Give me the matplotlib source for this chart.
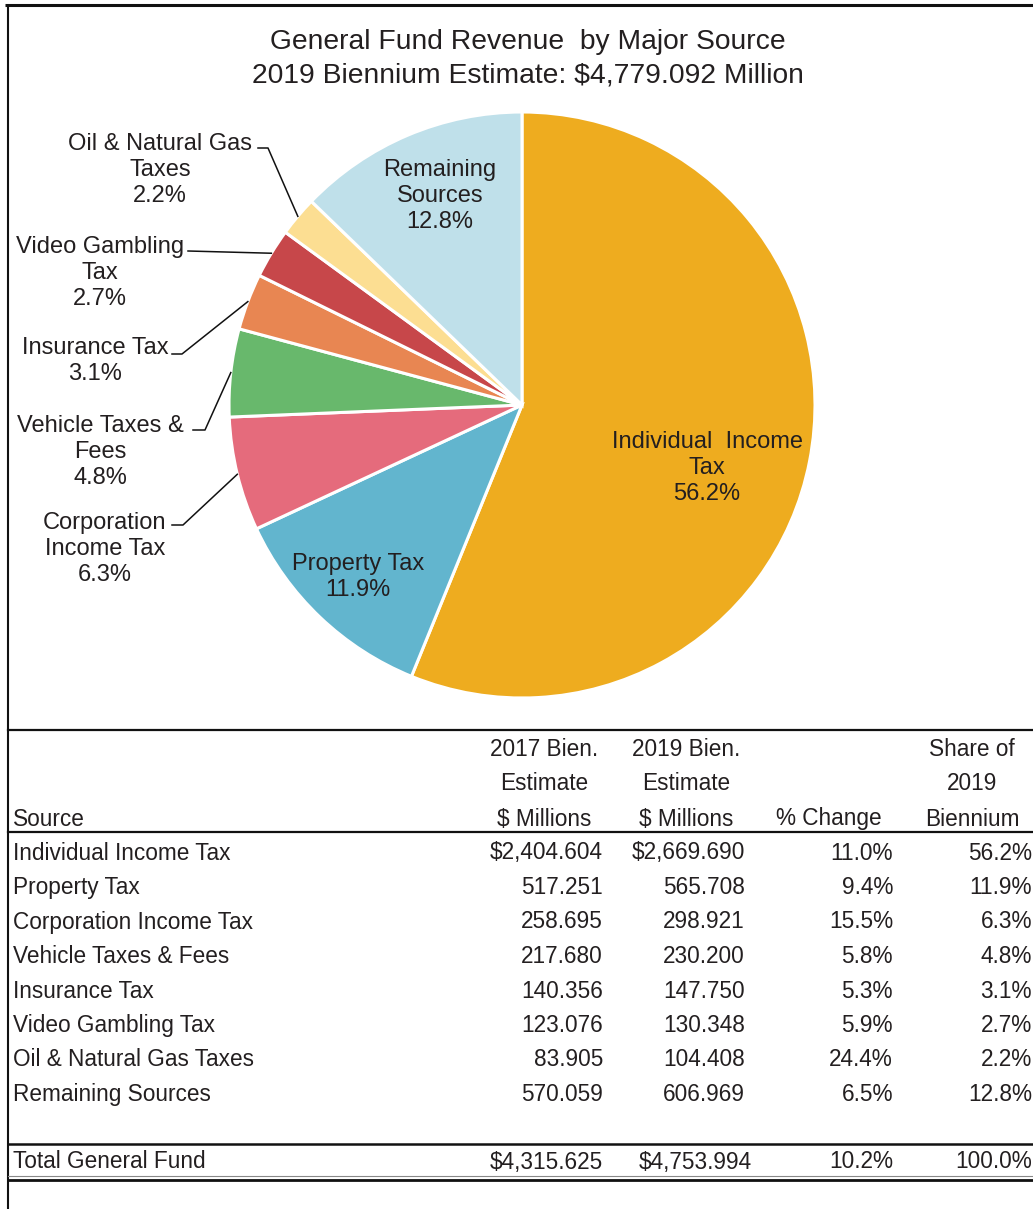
#!/usr/bin/env python3
"""Grafico a torta delle entrate del General Fund con tabella riassuntiva."""

import numpy as np
import matplotlib
matplotlib.use("Agg")
import matplotlib.pyplot as plt

# --- DATI ---
sources = ["Individual Income Tax", "Property Tax", "Corporation Income Tax",
           "Vehicle Taxes & Fees", "Insurance Tax", "Video Gambling Tax",
           "Oil & Natural Gas Taxes", "Remaining Sources"]
pie_labels = ["Individual  Income\nTax", "Property Tax", "Corporation\nIncome Tax",
              "Vehicle Taxes &\nFees", "Insurance Tax", "Video Gambling\nTax",
              "Oil & Natural Gas\nTaxes", "Remaining\nSources"]
est_2017 = [2404.604, 517.251, 258.695, 217.680, 140.356, 123.076, 83.905, 570.059]
est_2019 = [2669.690, 565.708, 298.921, 230.200, 147.750, 130.348, 104.408, 606.969]
pct_change = [11.0, 9.4, 15.5, 5.8, 5.3, 5.9, 24.4, 6.5]
share_2019 = [56.2, 11.9, 6.3, 4.8, 3.1, 2.7, 2.2, 12.8]
total_2017 = 4315.625
total_2019 = 4753.994
total_change = 10.2
total_share = 100.0

colors = ["#EEAC1F", "#62B5CE", "#E56B7C", "#68B86C", "#E88652", "#C7474A",
          "#FCDE92", "#BFE0EA"]
TXT = "#231F20"
FONT = "Liberation Sans"

# --- FIGURA (coordinate in pixel) ---
W, H = 1033, 1209
fig = plt.figure(figsize=(W / 100, H / 100), dpi=100)

# --- TORTA ---
cx, cy, r = 522, 405, 293
pax = fig.add_axes([(cx - r) / W, 1 - (cy + r) / H, 2 * r / W, 2 * r / H])
wedges, _ = pax.pie(est_2019, colors=colors, startangle=90, counterclock=False,
                    wedgeprops=dict(edgecolor="white", linewidth=2.2))
pax.set_xlim(-1, 1)
pax.set_ylim(-1, 1)
pax.axis("off")

# asse sovrapposto per testi e linee
ax = fig.add_axes([0, 0, 1, 1])
ax.set_xlim(0, W)
ax.set_ylim(H, 0)
ax.axis("off")
ax.set_zorder(3)

# cornice
ax.plot([5, W], [5, 5], color="#111111", lw=2.2, solid_capstyle="butt")
ax.plot([8, 8], [5, H], color="#111111", lw=1.5, solid_capstyle="butt")

ax.text(528, 42, "General Fund Revenue  by Major Source", ha="center", va="center",
        fontsize=20.3, family=FONT, color=TXT)
ax.text(528, 75, "2019 Biennium Estimate: $4,779.092 Million", ha="center", va="center",
        fontsize=20.3, family=FONT, color=TXT)

# etichette interne
inside = {0: (707, 468), 1: (358, 577), 7: (440, 196)}
# etichette esterne: centro testo, estremo della riga di richiamo, gomito
outside = {
    6: ((160, 170), (258, 148), (268, 148)),
    5: ((100, 273), (188, 251), (188, 251)),
    4: ((95, 361), (172, 354), (182, 354)),
    3: ((100, 452), (193, 430), (205, 430)),
    2: ((105, 549), (172, 525), (183, 525)),
}
LFS = 17

for i, w in enumerate(wedges):
    label = f"{pie_labels[i]}\n{share_2019[i]:.1f}%"
    if i in inside:
        x, y = inside[i]
        ax.text(x, y, label, ha="center", va="center", fontsize=LFS, family=FONT,
                color=TXT, linespacing=1.25)
    else:
        (x, y), (lx, ly), (ex, ey) = outside[i]
        ax.text(x, y, label, ha="center", va="center", fontsize=LFS, family=FONT,
                color=TXT, linespacing=1.25)
        theta = np.deg2rad((w.theta1 + w.theta2) / 2)
        axp = cx + r * np.cos(theta)
        ayp = cy - r * np.sin(theta)
        ax.plot([lx, ex, axp], [ly, ey, ayp], color="#111111", lw=1.1)

# --- TABELLA ---
FS = 16.3
ax.plot([8, W], [730, 730], color="#111111", lw=1.6)
ax.plot([8, W], [832, 832], color="#111111", lw=1.6)
ax.plot([8, W], [1144, 1144], color="#111111", lw=1.8)
ax.plot([8, W], [1176, 1176], color="#888888", lw=0.8)
ax.plot([8, W], [1180, 1180], color="#111111", lw=2.0)

col_right = [603, 745, 893, 1032]
col_center = [544, 686, 829, 972]
headers = [["2017 Bien.", "Estimate", "$ Millions"],
           ["2019 Bien.", "Estimate", "$ Millions"],
           ["", "", "% Change"],
           ["Share of", "2019", "Biennium"]]
header_y = [750, 784, 819]

ax.text(13, header_y[2], "Source", ha="left", va="center", fontsize=FS, family=FONT, color=TXT)
for c, lines in enumerate(headers):
    for k, t in enumerate(lines):
        if t:
            ax.text(col_center[c], header_y[k], t, ha="center", va="center",
                    fontsize=FS, family=FONT, color=TXT)

row_y0, row_step = 853, 34.5
for i, s in enumerate(sources):
    y = row_y0 + i * row_step
    pre = "$" if i == 0 else ""
    vals = [f"{pre}{est_2017[i]:,.3f}", f"{pre}{est_2019[i]:,.3f}",
            f"{pct_change[i]:.1f}%", f"{share_2019[i]:.1f}%"]
    ax.text(13, y, s, ha="left", va="center", fontsize=FS, family=FONT, color=TXT)
    for c, v in enumerate(vals):
        ax.text(col_right[c], y, v, ha="right", va="center", fontsize=FS,
                family=FONT, color=TXT)

ty = 1162
tot_vals = [f"${total_2017:,.3f}", f"${total_2019:,.3f}", f"{total_change:.1f}%",
            f"{total_share:.1f}%"]
tot_right = [603, 752, 893, 1032]
ax.text(13, ty, "Total General Fund", ha="left", va="center", fontsize=FS,
        family=FONT, color=TXT)
for c, v in enumerate(tot_vals):
    ax.text(tot_right[c], ty, v, ha="right", va="center", fontsize=FS,
            family=FONT, color=TXT)

fig.savefig("out.png", dpi=100)
